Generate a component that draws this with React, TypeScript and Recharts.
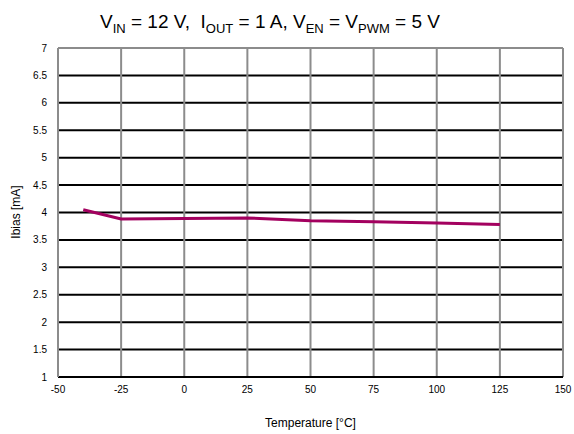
import { CartesianGrid, Line, LineChart, ReferenceLine, XAxis, YAxis } from "recharts";

const temperatures = [-40, -25, 0, 25, 50, 75, 100, 125];
const ibias = [4.05, 3.88, 3.89, 3.9, 3.85, 3.83, 3.81, 3.78];
const xTicks = [-50, -25, 0, 25, 50, 75, 100, 125, 150];
const yTicks = [1, 1.5, 2, 2.5, 3, 3.5, 4, 4.5, 5, 5.5, 6, 6.5, 7];

const FONT = "'Liberation Sans', Arial, sans-serif";

const data = temperatures.map((t, i) => ({ t, ibias: ibias[i] }));

function App() {
  return (
    <div
      style={{
        position: "absolute",
        left: 0,
        top: 0,
        width: 574,
        height: 434,
        background: "#fff",
        fontFamily: FONT,
      }}
    >
      <div
        style={{
          position: "absolute",
          left: 100,
          top: 11,
          fontSize: 19,
          lineHeight: "22px",
          whiteSpace: "pre",
          color: "#000",
        }}
      >
        V<sub style={{ fontSize: 13 }}>IN</sub> = 12 V,  I
        <sub style={{ fontSize: 13 }}>OUT</sub> = 1 A, V
        <sub style={{ fontSize: 13 }}>EN</sub> = V
        <sub style={{ fontSize: 13 }}>PWM</sub> = 5 V
      </div>
      <LineChart
        width={574}
        height={434}
        data={data}
        margin={{ top: 48, right: 11, bottom: 0, left: 0 }}
      >
        <CartesianGrid vertical={false} stroke="#000" strokeWidth={2} />
        <CartesianGrid horizontal={false} stroke="#8c8c8c" strokeWidth={2} />
        <XAxis
          dataKey="t"
          type="number"
          domain={[-50, 150]}
          ticks={xTicks}
          height={57}
          tickSize={0}
          tickMargin={9}
          axisLine={{ stroke: "#000", strokeWidth: 2 }}
          tick={{ fill: "#000", fontSize: 10, fontFamily: FONT }}
          label={{
            value: "Temperature [°C]",
            position: "insideBottom",
            offset: 7,
            fill: "#000",
            fontSize: 12,
            fontFamily: FONT,
          }}
        />
        <YAxis
          type="number"
          domain={[1, 7]}
          ticks={yTicks}
          width={58}
          tickSize={0}
          tickMargin={11}
          axisLine={{ stroke: "#8c8c8c", strokeWidth: 2 }}
          tick={{ fill: "#000", fontSize: 10, fontFamily: FONT }}
          label={() => (
            <text
              x={20}
              y={212}
              transform="rotate(-90 20 212)"
              textAnchor="middle"
              fontSize={12}
              fontFamily={FONT}
              fill="#000"
            >
              Ibias [mA]
            </text>
          )}
        />
        <ReferenceLine y={7} stroke="#8c8c8c" strokeWidth={2} />
        <ReferenceLine x={150} stroke="#8c8c8c" strokeWidth={2} />
        <Line
          dataKey="ibias"
          stroke="#a3005f"
          strokeWidth={3}
          dot={false}
          isAnimationActive={false}
        />
      </LineChart>
    </div>
  );
}

export default App;
